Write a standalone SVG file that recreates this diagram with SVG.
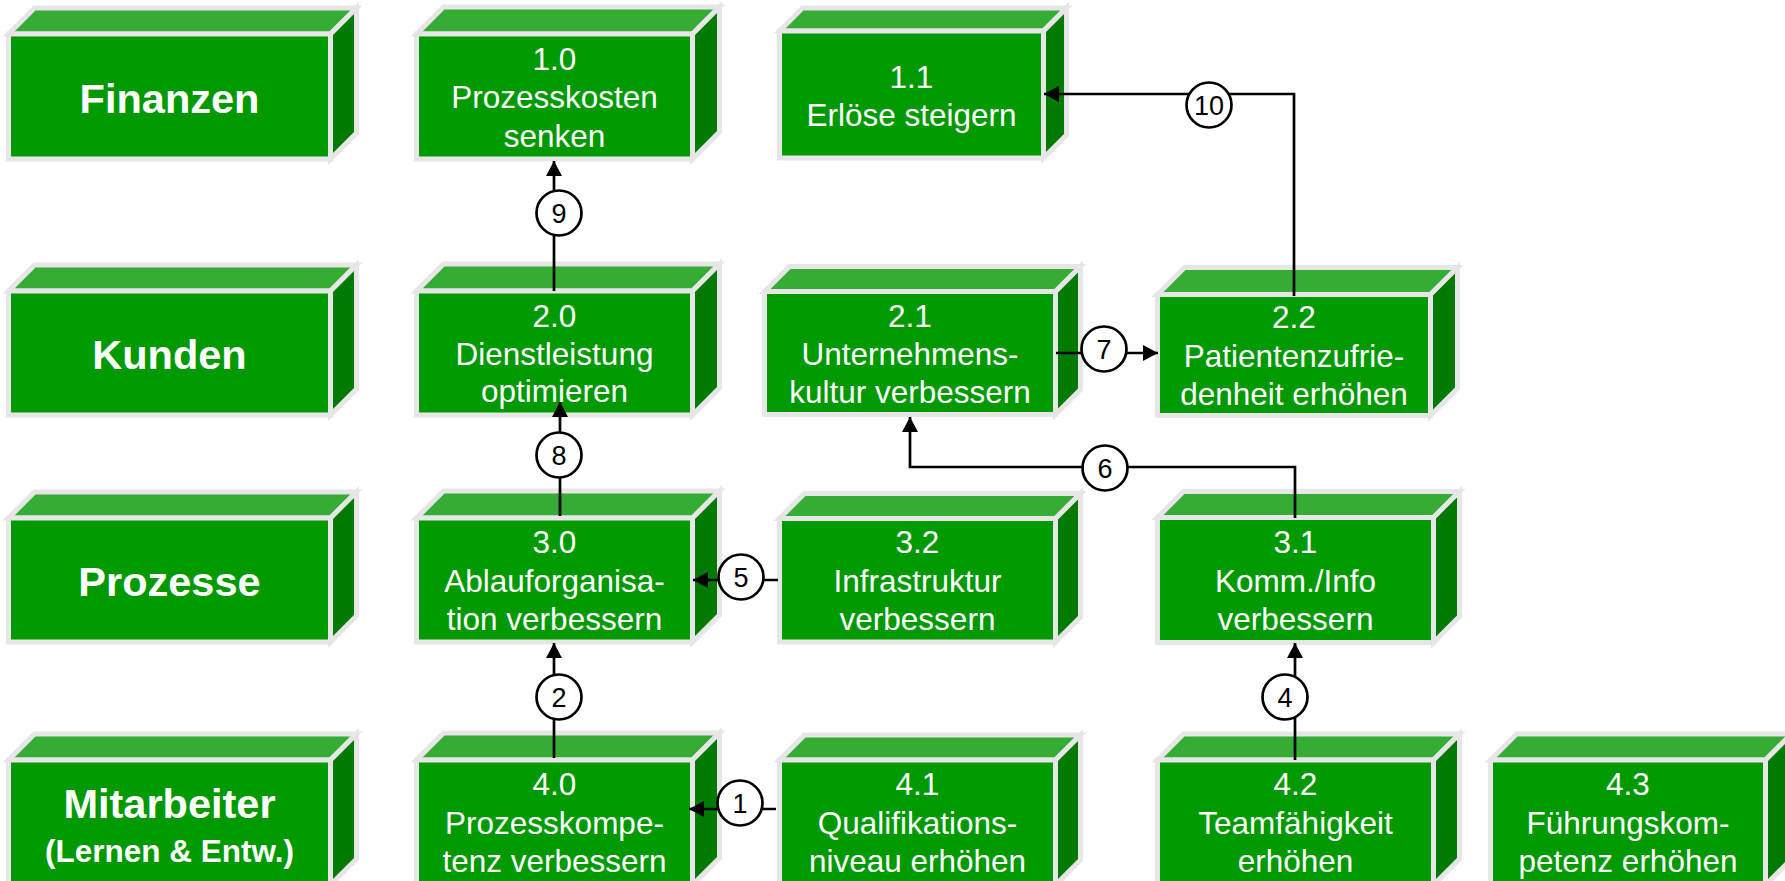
<svg xmlns="http://www.w3.org/2000/svg" width="1785" height="881" viewBox="0 0 1785 881">
<style>
.f{fill:#009900;stroke:#E6E6E6;stroke-width:5}
.t{fill:#35AD35;stroke:#E6E6E6;stroke-width:5;stroke-linejoin:miter}
.r{fill:#007A00;stroke:#E6E6E6;stroke-width:5;stroke-linejoin:miter}
.lbl{font-family:"Liberation Sans",Arial,sans-serif;font-weight:bold;fill:#FFFFFF;text-anchor:middle}
.tx{font-family:"Liberation Sans",Arial,sans-serif;font-size:31.5px;fill:#FFFFFF;text-anchor:middle}
.ln{fill:none;stroke:#000000;stroke-width:2.7}
.cc{fill:#FFFFFF;stroke:#000000;stroke-width:2.7}
.ct{font-family:"Liberation Sans",Arial,sans-serif;font-size:27px;fill:#000000;text-anchor:middle}
</style>
<defs>
<marker id="arr" viewBox="0 0 15 16" refX="15" refY="8" markerWidth="15" markerHeight="16" markerUnits="userSpaceOnUse" orient="auto">
<path d="M0,0 L15,8 L0,16 Z" fill="#000000"/>
</marker>
</defs>
<rect width="1785" height="881" fill="#FFFFFF"/>

<g id="finanzen">
<polygon class="t" points="8.5,34 34.5,8 356.5,8 330.5,34"/>
<polygon class="r" points="330.5,34 356.5,8 356.5,133 330.5,159"/>
<rect class="f" x="8.5" y="34" width="322" height="125"/>
<text class="lbl" x="169.5" y="113" font-size="41.5">Finanzen</text>
</g>
<g id="kunden">
<polygon class="t" points="8.5,291 34.5,265 356.5,265 330.5,291"/>
<polygon class="r" points="330.5,291 356.5,265 356.5,389 330.5,415"/>
<rect class="f" x="8.5" y="291" width="322" height="124"/>
<text class="lbl" x="169.5" y="369" font-size="41.5">Kunden</text>
</g>
<g id="prozesse">
<polygon class="t" points="8.5,518 34.5,492 356.5,492 330.5,518"/>
<polygon class="r" points="330.5,518 356.5,492 356.5,616 330.5,642"/>
<rect class="f" x="8.5" y="518" width="322" height="124"/>
<text class="lbl" x="169.5" y="596" font-size="41.5">Prozesse</text>
</g>
<g id="mitarbeiter">
<polygon class="t" points="8.5,760 34.5,734 356.5,734 330.5,760"/>
<polygon class="r" points="330.5,760 356.5,734 356.5,859 330.5,885"/>
<rect class="f" x="8.5" y="760" width="322" height="125"/>
<text class="lbl" x="169.5" y="818" font-size="41.5">Mitarbeiter</text>
<text class="lbl" x="169.5" y="862" font-size="31.5">(Lernen &amp; Entw.)</text>
</g>

<g id="n1_0">
<polygon class="t" points="416.5,34 443.5,7 719.5,7 692.5,34"/>
<polygon class="r" points="692.5,34 719.5,7 719.5,132 692.5,159"/>
<rect class="f" x="416.5" y="34" width="276" height="125"/>
<text class="tx" x="554.5" y="70">1.0</text>
<text class="tx" x="554.5" y="108">Prozesskosten</text>
<text class="tx" x="554.5" y="146.5">senken</text>
</g>
<g id="n1_1">
<polygon class="t" points="779.5,31 802.5,8 1066.5,8 1043.5,31"/>
<polygon class="r" points="1043.5,31 1066.5,8 1066.5,135 1043.5,158"/>
<rect class="f" x="779.5" y="31" width="264" height="127"/>
<text class="tx" x="911.5" y="88">1.1</text>
<text class="tx" x="911.5" y="126">Erlöse steigern</text>
</g>
<g id="n2_0">
<polygon class="t" points="416.5,291 443.5,264 719.5,264 692.5,291"/>
<polygon class="r" points="692.5,291 719.5,264 719.5,388 692.5,415"/>
<rect class="f" x="416.5" y="291" width="276" height="124"/>
<text class="tx" x="554.5" y="326.5">2.0</text>
<text class="tx" x="554.5" y="365">Dienstleistung</text>
<text class="tx" x="554.5" y="402">optimieren</text>
</g>
<g id="n2_1">
<polygon class="t" points="764.5,291.5 789.5,266.5 1080.5,266.5 1055.5,291.5"/>
<polygon class="r" points="1055.5,291.5 1080.5,266.5 1080.5,389.5 1055.5,414.5"/>
<rect class="f" x="764.5" y="291.5" width="291" height="123"/>
<text class="tx" x="910" y="326.5">2.1</text>
<text class="tx" x="910" y="365">Unternehmens-</text>
<text class="tx" x="910" y="403">kultur verbessern</text>
</g>
<g id="n2_2">
<polygon class="t" points="1157.5,294.5 1184.5,267.5 1457.5,267.5 1430.5,294.5"/>
<polygon class="r" points="1430.5,294.5 1457.5,267.5 1457.5,388.5 1430.5,415.5"/>
<rect class="f" x="1157.5" y="294.5" width="273" height="121"/>
<text class="tx" x="1294" y="328">2.2</text>
<text class="tx" x="1294" y="366.5">Patientenzufrie-</text>
<text class="tx" x="1294" y="405">denheit erhöhen</text>
</g>
<g id="n3_0">
<polygon class="t" points="416.5,518 443.5,491 719.5,491 692.5,518"/>
<polygon class="r" points="692.5,518 719.5,491 719.5,615 692.5,642"/>
<rect class="f" x="416.5" y="518" width="276" height="124"/>
<text class="tx" x="554.5" y="553">3.0</text>
<text class="tx" x="554.5" y="591.5">Ablauforganisa-</text>
<text class="tx" x="554.5" y="630">tion verbessern</text>
</g>
<g id="n3_2">
<polygon class="t" points="779.5,518.5 804.5,493.5 1080.5,493.5 1055.5,518.5"/>
<polygon class="r" points="1055.5,518.5 1080.5,493.5 1080.5,617 1055.5,642"/>
<rect class="f" x="779.5" y="518.5" width="276" height="123.5"/>
<text class="tx" x="917.5" y="553">3.2</text>
<text class="tx" x="917.5" y="591.5">Infrastruktur</text>
<text class="tx" x="917.5" y="630">verbessern</text>
</g>
<g id="n3_1">
<polygon class="t" points="1157.5,517.5 1183.5,491.5 1459.5,491.5 1433.5,517.5"/>
<polygon class="r" points="1433.5,517.5 1459.5,491.5 1459.5,616.5 1433.5,642.5"/>
<rect class="f" x="1157.5" y="517.5" width="276" height="125"/>
<text class="tx" x="1295.5" y="553">3.1</text>
<text class="tx" x="1295.5" y="591.5">Komm./Info</text>
<text class="tx" x="1295.5" y="630">verbessern</text>
</g>
<g id="n4_0">
<polygon class="t" points="416.5,760 443.5,733 719.5,733 692.5,760"/>
<polygon class="r" points="692.5,760 719.5,733 719.5,858 692.5,885"/>
<rect class="f" x="416.5" y="760" width="276" height="125"/>
<text class="tx" x="554.5" y="795">4.0</text>
<text class="tx" x="554.5" y="833.5">Prozesskompe-</text>
<text class="tx" x="554.5" y="872">tenz verbessern</text>
</g>
<g id="n4_1">
<polygon class="t" points="779.5,760 804.5,735 1080.5,735 1055.5,760"/>
<polygon class="r" points="1055.5,760 1080.5,735 1080.5,860 1055.5,885"/>
<rect class="f" x="779.5" y="760" width="276" height="125"/>
<text class="tx" x="917.5" y="795">4.1</text>
<text class="tx" x="917.5" y="833.5">Qualifikations-</text>
<text class="tx" x="917.5" y="872">niveau erhöhen</text>
</g>
<g id="n4_2">
<polygon class="t" points="1157.5,760 1183.5,734 1459.5,734 1433.5,760"/>
<polygon class="r" points="1433.5,760 1459.5,734 1459.5,859 1433.5,885"/>
<rect class="f" x="1157.5" y="760" width="276" height="125"/>
<text class="tx" x="1295.5" y="795">4.2</text>
<text class="tx" x="1295.5" y="833.5">Teamfähigkeit</text>
<text class="tx" x="1295.5" y="872">erhöhen</text>
</g>
<g id="n4_3">
<polygon class="t" points="1490.5,760 1516.5,734 1791.5,734 1765.5,760"/>
<polygon class="r" points="1765.5,760 1791.5,734 1791.5,859 1765.5,885"/>
<rect class="f" x="1490.5" y="760" width="275" height="125"/>
<text class="tx" x="1628" y="795">4.3</text>
<text class="tx" x="1628" y="833.5">Führungskom-</text>
<text class="tx" x="1628" y="872">petenz erhöhen</text>
</g>

<g id="connectors">
<path class="ln" d="M776,809 L689,809" marker-end="url(#arr)"/>
<path class="ln" d="M554,758 L554,643" marker-end="url(#arr)"/>
<path class="ln" d="M1295,760 L1295,643" marker-end="url(#arr)"/>
<path class="ln" d="M778,580 L693,580" marker-end="url(#arr)"/>
<path class="ln" d="M1295,518 L1295,467 L910,467 L910,417" marker-end="url(#arr)"/>
<path class="ln" d="M1056,353 L1158,353" marker-end="url(#arr)"/>
<path class="ln" d="M560,516 L560,402" marker-end="url(#arr)"/>
<path class="ln" d="M554,291 L554,161" marker-end="url(#arr)"/>
<path class="ln" d="M1294,296 L1294,94 L1044,94" marker-end="url(#arr)"/>
<circle class="cc" cx="740" cy="803" r="22.5"/><text class="ct" x="740" y="812.5">1</text>
<circle class="cc" cx="559" cy="697" r="22.5"/><text class="ct" x="559" y="706.5">2</text>
<circle class="cc" cx="1285" cy="697" r="22.5"/><text class="ct" x="1285" y="706.5">4</text>
<circle class="cc" cx="741" cy="577" r="22.5"/><text class="ct" x="741" y="586.5">5</text>
<circle class="cc" cx="1105" cy="468" r="22.5"/><text class="ct" x="1105" y="477.5">6</text>
<circle class="cc" cx="1104" cy="349" r="22.5"/><text class="ct" x="1104" y="358.5">7</text>
<circle class="cc" cx="559" cy="455" r="22.5"/><text class="ct" x="559" y="464.5">8</text>
<circle class="cc" cx="559" cy="213" r="22.5"/><text class="ct" x="559" y="222.5">9</text>
<circle class="cc" cx="1209" cy="105" r="22.5"/><text class="ct" x="1209" y="114.5">10</text>
</g>
</svg>
